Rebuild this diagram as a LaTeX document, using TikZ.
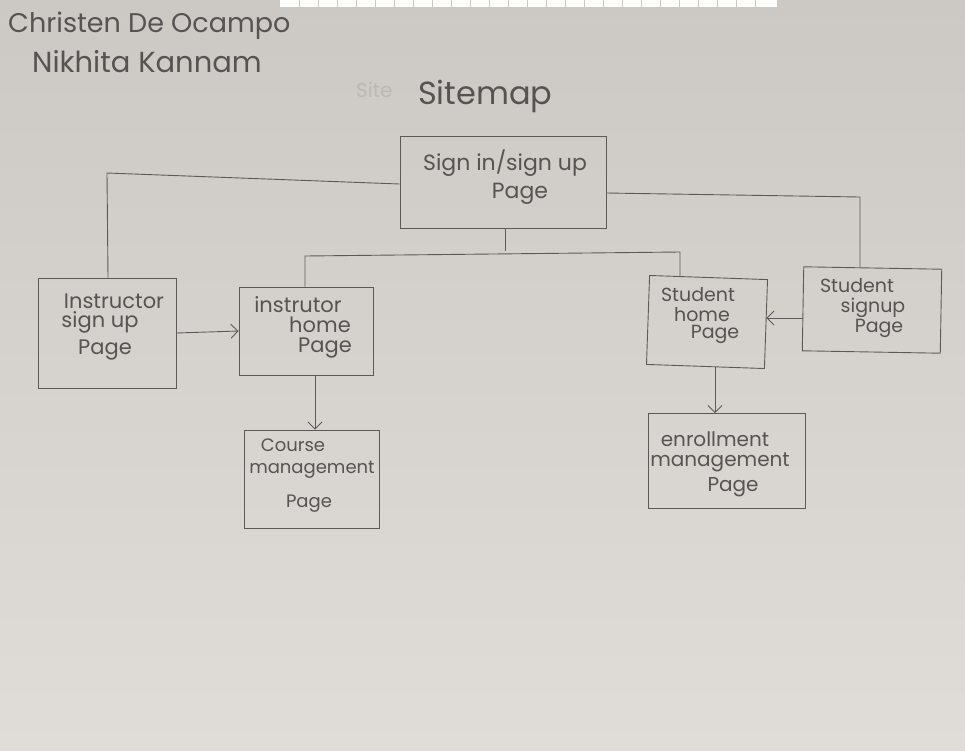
\documentclass[tikz,border=0pt]{standalone}
\usepackage{fontspec}
\setmainfont{Poppins}
\usetikzlibrary{arrows.meta,calc}
\definecolor{paperA}{RGB}{204,201,197}
\definecolor{paperB}{RGB}{224,221,217}
\definecolor{pencil}{RGB}{92,90,88}
\definecolor{ink}{RGB}{86,84,82}
\tikzset{
  pagebox/.style={draw=pencil, line width=0.9pt, inner sep=0pt},
  lbl/.style={text=ink, align=center, inner sep=0pt},
  wire/.style={draw=pencil, line width=0.9pt},
  flow/.style={wire, -{Straight Barb[length=7pt,width=14pt,line width=0.9pt]}},
  hand/.style={text=ink, inner sep=0pt, anchor=west},
}
\newcommand{\fs}[2]{\fontsize{#1}{#2}\selectfont}
\begin{document}
\begin{tikzpicture}[x=1pt,y=-1pt]
  % paper
  \useasboundingbox (0,0) rectangle (965,750);
  \shade[top color=paperA, bottom color=paperB] (0,0) rectangle (965,750);
  % margin of the notebook page behind
  \fill[white!90!paperB] (280,0) rectangle (777,7);
  \foreach \t in {299,318,...,770} \draw[paperA, line width=0.5pt] (\t,0) -- (\t,7);

  % header
  \node[hand, font=\fs{27}{27}] (author1) at (8,26) {Christen De Ocampo};
  \node[hand, font=\fs{29}{29}] (author2) at (32,62) {Nikhita Kannam};
  \node[hand, font=\fs{20}{20}, text=paperA!92!black] (erased) at (356,90) {Site};
  \node[hand, font=\fs{32}{32}] (title) at (418,96) {Sitemap};

  % page boxes
  \node[pagebox, minimum width=206, minimum height=92] (signin) at (503,182) {};
  \node[pagebox, minimum width=138, minimum height=110] (isu) at (107,333) {};
  \node[pagebox, minimum width=134, minimum height=88] (ihome) at (306,331) {};
  \node[pagebox, minimum width=135, minimum height=98] (course) at (312,479) {};
  \node[pagebox, minimum width=118, minimum height=89, rotate=-2] (shome) at (707,322) {};
  \node[pagebox, minimum width=138, minimum height=84, rotate=-1] (ssu) at (872,310) {};
  \node[pagebox, minimum width=157, minimum height=95] (enroll) at (727,461) {};

  % page names
  \node[lbl, font=\fs{22}{28}] (signin-t) at (505,177)
    {Sign in/sign up\\\hspace*{30pt}Page};
  \node[lbl, font=\fs{21}{22}] (isu-t) at (107,327)
    {\hspace*{14pt}Instructor\\[-3pt]\hspace*{-14pt}sign up\\[5pt]\hspace*{-4pt}Page};
  \node[lbl, font=\fs{21}{21}] (ihome-t) at (308,327)
    {\hspace*{-20pt}instrutor\\[-1pt]\hspace*{24pt}home\\[-1pt]\hspace*{34pt}Page};
  \node[lbl, font=\fs{18}{22}] (course-t) at (312,476)
    {\hspace*{-38pt}Course\\management\\[12pt]\hspace*{-6pt}Page};
  \node[lbl, font=\fs{19}{20}] (shome-t) at (704,316)
    {\hspace*{-12pt}Student\\\hspace*{-4pt}home\\[-3pt]\hspace*{22pt}Page};
  \node[lbl, font=\fs{19}{20}] (ssu-t) at (868,308)
    {\hspace*{-22pt}Student\\\hspace*{10pt}signup\\\hspace*{22pt}Page};
  \node[lbl, font=\fs{20}{21}] (enroll-t) at (720,464)
    {\hspace*{-10pt}enrollment\\[-1pt]management\\[4pt]\hspace*{26pt}Page};

  % hub below the sign in page
  \coordinate (hub) at (505,251);
  \coordinate (bl) at (305,256);
  \coordinate (br) at (680,252);
  \draw[wire] (signin.south -| hub) -- (hub);
  \draw[wire] (ihome.north -| bl) -- (bl) -- (br) -- (shome.north -| br);

  % side branches to the sign up pages
  \draw[wire] (signin.west |- 0,184) -- (isu.north |- 0,173) -- (isu.north -| 108,0);
  \draw[wire] (signin.east |- 0,193) -- (860,197) -- (ssu.north -| 860,0);

  % arrows between pages
  \draw[flow] (isu.east) -- (ihome.west);
  \draw[flow] (ihome.south -| 315,0) -- (course.north -| 315,0);
  \draw[flow] (ssu.west |- 0,318) -- (shome.east |- 0,318);
  \draw[flow] (shome.south -| 715,0) -- (enroll.north -| 715,0);
\end{tikzpicture}
\end{document}
